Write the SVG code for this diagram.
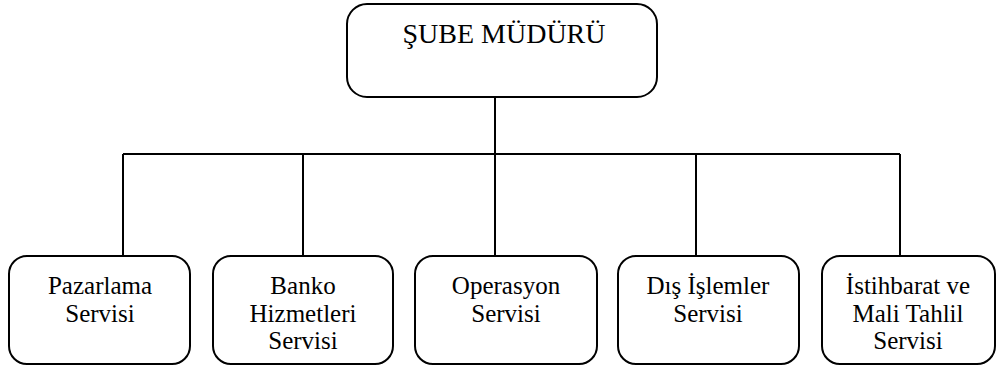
<svg xmlns="http://www.w3.org/2000/svg" width="997" height="366" viewBox="0 0 997 366">
<style>
.box{fill:#fff;stroke:#000;stroke-width:2}
.ln{fill:none;stroke:#000;stroke-width:2}
.lbl{font-size:25px;fill:#000;text-anchor:middle}
.t{font-size:28px}
</style>
<rect width="997" height="366" fill="#fff"/>
<g id="connectors">
<path class="ln" d="M495 97V154M123 154H900M123 154V256M303 154V256M495 154V256M696 154V256M900 154V256"/>
</g>
<g font-family="Liberation Serif, Times New Roman, DejaVu Serif, serif">
<g id="sube-muduru">
<rect class="box" x="347" y="4" width="310" height="93" rx="20"/>
<text class="lbl t" x="504" y="43">ŞUBE MÜDÜRÜ</text>
</g>
<g id="pazarlama">
<rect class="box" x="9" y="256" width="181" height="108" rx="18"/>
<text class="lbl" x="100" y="294">Pazarlama</text>
<text class="lbl" x="100" y="322">Servisi</text>
</g>
<g id="banko">
<rect class="box" x="213" y="256" width="180" height="108" rx="18"/>
<text class="lbl" x="303" y="294">Banko</text>
<text class="lbl" x="303" y="322">Hizmetleri</text>
<text class="lbl" x="303" y="349">Servisi</text>
</g>
<g id="operasyon">
<rect class="box" x="415" y="256" width="182" height="108" rx="18"/>
<text class="lbl" x="506" y="294">Operasyon</text>
<text class="lbl" x="506" y="322">Servisi</text>
</g>
<g id="dis-islemler">
<rect class="box" x="618" y="256" width="181" height="108" rx="18"/>
<text class="lbl" x="708" y="294">Dış İşlemler</text>
<text class="lbl" x="708" y="322">Servisi</text>
</g>
<g id="istihbarat">
<rect class="box" x="822" y="256" width="173" height="108" rx="18"/>
<text class="lbl" x="908" y="294">İstihbarat ve</text>
<text class="lbl" x="908" y="322">Mali Tahlil</text>
<text class="lbl" x="908" y="349">Servisi</text>
</g>
</g>
</svg>
